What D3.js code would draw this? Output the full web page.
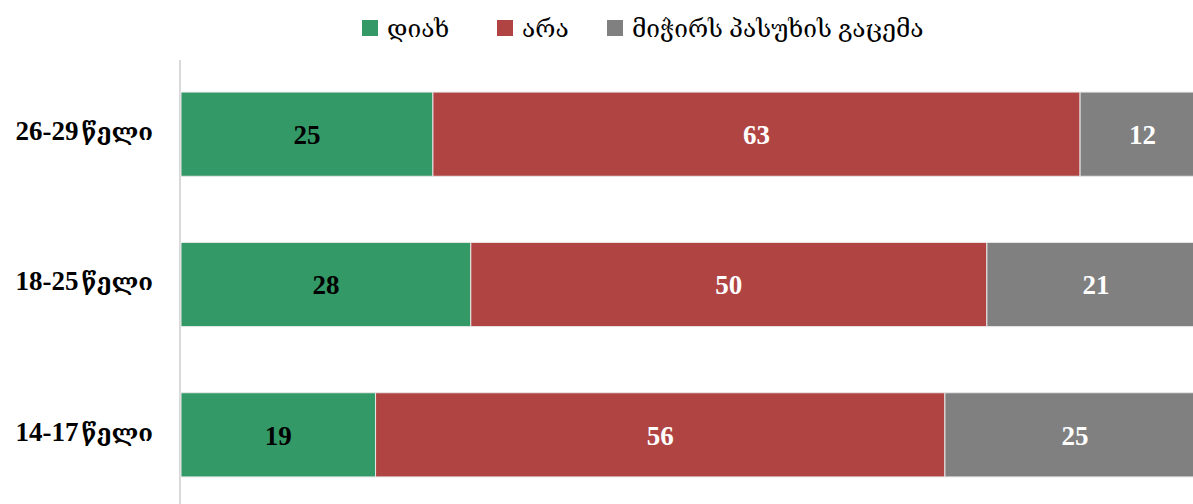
<!DOCTYPE html>
<html>
<head>
<meta charset="utf-8">
<script src="https://cdn.jsdelivr.net/npm/d3@7"></script>
<style>
  body { margin: 0; background: #fff; }
  text { font-family: "Liberation Serif", "DejaVu Serif", serif; }
</style>
</head>
<body>
<div id="chart"></div>
<script>
// age groups, top to bottom
const groups = ["26-29 წელი", "18-25 წელი", "14-17 წელი"];
const seriesNames = ["დიახ", "არა", "მიჭირს პასუხის გაცემა"];
const seriesColors = ["#339966", "#b04442", "#808080"];
const labelColors = ["#000", "#fff", "#fff"];
// percentages per series (same order as groups)
const yes = [24.6, 28.3, 19.0];
const no = [63.2, 50.4, 55.6];
const hard = [12.2, 21.3, 25.4];

const W = 1193, H = 504;
const margin = { top: 60, left: 181, right: -12, bottom: 0 };

const rows = groups.map((g, i) => ({ group: g, s0: yes[i], s1: no[i], s2: hard[i] }));
const stack = d3.stack().keys(["s0", "s1", "s2"]);
const layers = stack(rows);

const svg = d3.select("#chart").append("svg")
  .attr("width", W)
  .attr("height", H);

const x = d3.scaleLinear()
  .domain([0, 100])
  .range([margin.left, W - margin.right]);

const y = d3.scaleBand()
  .domain(groups)
  .range([margin.top - 1, H + 6])
  .paddingInner(0.44)
  .paddingOuter(0.22);

// vertical axis line
svg.append("line")
  .attr("x1", margin.left - 1).attr("x2", margin.left - 1)
  .attr("y1", margin.top).attr("y2", H)
  .attr("stroke", "#d9d9d9")
  .attr("stroke-width", 2);

// bars
const layerG = svg.selectAll("g.layer")
  .data(layers)
  .enter().append("g")
  .attr("class", "layer")
  .attr("fill", (d, i) => seriesColors[i]);

layerG.selectAll("rect")
  .data(d => d)
  .enter().append("rect")
  .attr("x", d => x(d[0]))
  .attr("y", d => y(d.data.group))
  .attr("width", d => x(d[1]) - x(d[0]))
  .attr("height", y.bandwidth())
  .attr("stroke", "#e8e8e8")
  .attr("stroke-width", 1);

// value labels
layers.forEach((layer, i) => {
  svg.selectAll("text.v" + i)
    .data(layer)
    .enter().append("text")
    .attr("class", "v" + i)
    .attr("x", d => (x(d[0]) + x(d[1])) / 2)
    .attr("y", d => y(d.data.group) + y.bandwidth() / 2)
    .attr("dy", "0.36em")
    .attr("text-anchor", "middle")
    .attr("font-size", 27)
    .attr("font-weight", "bold")
    .attr("fill", labelColors[i])
    .text(d => Math.round(d[1] - d[0]));
});

// category labels: number part and Georgian word sized separately
const cat = svg.selectAll("text.cat")
  .data(groups)
  .enter().append("text")
  .attr("class", "cat")
  .attr("x", 153)
  .attr("y", d => y(d) + y.bandwidth() / 2)
  .attr("dy", "0.36em")
  .attr("text-anchor", "end")
  .attr("font-weight", "bold")
  .attr("fill", "#000");

cat.append("tspan")
  .attr("font-size", 27)
  .text(d => d.split(" ")[0]);

cat.append("tspan")
  .attr("font-size", 24)
  .attr("dx", 3)
  .text(d => d.split(" ")[1]);

// legend
const legendX = [362, 497, 607];
const legend = svg.selectAll("g.legend")
  .data(seriesNames)
  .enter().append("g")
  .attr("class", "legend")
  .attr("transform", (d, i) => "translate(" + legendX[i] + ",20)");

legend.append("rect")
  .attr("width", 16).attr("height", 16)
  .attr("fill", (d, i) => seriesColors[i]);

legend.append("text")
  .attr("x", 25)
  .attr("y", 8)
  .attr("dy", "0.36em")
  .attr("font-size", 24.5)
  .attr("fill", "#000")
  .text(d => d);
</script>
</body>
</html>
